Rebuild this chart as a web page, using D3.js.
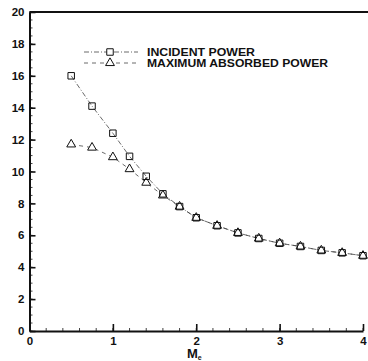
<!DOCTYPE html>
<html>
<head>
<meta charset="utf-8">
<script src="https://cdn.jsdelivr.net/npm/d3@7/dist/d3.min.js"></script>
<style>
  html, body { margin: 0; padding: 0; background: #fff; }
  svg { display: block; }
  text { font-family: "Liberation Sans", Arial, sans-serif; font-weight: bold; fill: #111; }
</style>
</head>
<body>
<svg id="chart" width="368" height="361"></svg>
<script>
// Mach number samples
const machNumbers = [0.5, 0.75, 1.0, 1.2, 1.4, 1.6, 1.8, 2.0, 2.25, 2.5, 2.75, 3.0, 3.25, 3.5, 3.75, 4.0];
// Incident power (square markers)
const incidentPower = [16.0, 14.1, 12.4, 10.95, 9.7, 8.6, 7.8, 7.1, 6.6, 6.15, 5.8, 5.5, 5.3, 5.05, 4.9, 4.72];
// Maximum absorbed power (triangle markers)
const absorbedPower = [11.7, 11.5, 10.9, 10.15, 9.3, 8.5, 7.8, 7.1, 6.6, 6.15, 5.8, 5.5, 5.3, 5.05, 4.9, 4.72];

const xTicks = [0, 1, 2, 3, 4];
const yTicks = [0, 2, 4, 6, 8, 10, 12, 14, 16, 18, 20];
const seriesLabels = ["INCIDENT POWER", "MAXIMUM ABSORBED POWER"];

const svg = d3.select("#chart");
const x = d3.scaleLinear().domain([0, 4]).range([29.5, 363]);
const y = d3.scaleLinear().domain([0, 20]).range([331, 12]);

const ink = "#111";

// minor ticks
const g = svg.append("g");
g.selectAll(".xminor").data(d3.range(0, 4.001, 0.2)).join("line")
  .attr("x1", d => x(d)).attr("x2", d => x(d))
  .attr("y1", y(0)).attr("y2", y(0) - 3)
  .attr("stroke", ink).attr("stroke-width", 0.8);
g.selectAll(".yminor").data(d3.range(0, 20.001, 0.5)).join("line")
  .attr("x1", x(0)).attr("x2", x(0) + 3)
  .attr("y1", d => y(d)).attr("y2", d => y(d))
  .attr("stroke", ink).attr("stroke-width", 0.8);

// axes
const xAxis = d3.axisBottom(x).tickValues(xTicks).tickFormat(d3.format("d"))
  .tickSizeInner(-7).tickSizeOuter(0).tickPadding(4);
const yAxis = d3.axisLeft(y).tickValues(yTicks).tickFormat(d3.format("d"))
  .tickSizeInner(-6).tickSizeOuter(0).tickPadding(5);

const gx = svg.append("g").attr("transform", `translate(0,${y(0)})`).call(xAxis);
const gy = svg.append("g").attr("transform", `translate(${x(0)},0)`).call(yAxis);
[gx, gy].forEach(a => {
  a.select(".domain").attr("stroke", ink).attr("stroke-width", 2);
  a.selectAll(".tick line").attr("stroke", ink).attr("stroke-width", 1.6);
  a.selectAll(".tick text").attr("font-size", 11.5).attr("font-weight", "bold")
    .attr("font-family", "'Liberation Sans', Arial, sans-serif").attr("fill", ink);
});
gx.selectAll(".tick text").attr("dy", "0.85em");

// top frame line
svg.append("line")
  .attr("x1", x(0)).attr("x2", 368)
  .attr("y1", y(20)).attr("y2", y(20))
  .attr("stroke", ink).attr("stroke-width", 2);

// axis title M with subscript e
const title = svg.append("text").attr("x", x(2) - 2).attr("y", 358)
  .attr("font-size", 13).attr("text-anchor", "middle");
title.append("tspan").text("M");
title.append("tspan").attr("font-size", 7).attr("dy", 2).text("e");

// series
const incident = machNumbers.map((m, i) => [m, incidentPower[i]]);
const absorbed = machNumbers.map((m, i) => [m, absorbedPower[i]]);
const line = d3.line().x(d => x(d[0])).y(d => y(d[1]));

svg.append("path").datum(incident).attr("d", line)
  .attr("fill", "none").attr("stroke", "#444").attr("stroke-width", 0.8)
  .attr("stroke-dasharray", "5,2,1,2");
svg.append("path").datum(absorbed).attr("d", line)
  .attr("fill", "none").attr("stroke", "#444").attr("stroke-width", 0.8)
  .attr("stroke-dasharray", "4,4");

const sq = d3.symbol().type(d3.symbolSquare).size(42);
const tri = d3.symbol().type(d3.symbolTriangle).size(34);

svg.selectAll(".tri").data(absorbed).join("path")
  .attr("transform", d => `translate(${x(d[0])},${y(d[1])})`)
  .attr("d", tri).attr("fill", "#fff").attr("stroke", ink).attr("stroke-width", 1);
svg.selectAll(".sq").data(incident).join("path")
  .attr("transform", d => `translate(${x(d[0])},${y(d[1])})`)
  .attr("d", sq).attr("fill", "none").attr("stroke", ink).attr("stroke-width", 1);

// legend
const legend = svg.append("g");
const rows = [
  { yy: 52, dash: "5,2,1,2", sym: sq, label: seriesLabels[0], width: 108 },
  { yy: 63, dash: "4,4", sym: tri, label: seriesLabels[1], width: 181 }
];
rows.forEach(r => {
  legend.append("line").attr("x1", 84).attr("x2", 138)
    .attr("y1", r.yy).attr("y2", r.yy)
    .attr("stroke", "#444").attr("stroke-width", 0.8).attr("stroke-dasharray", r.dash);
  legend.append("path").attr("transform", `translate(110,${r.yy})`)
    .attr("d", r.sym).attr("fill", "#fff").attr("stroke", ink).attr("stroke-width", 1);
  legend.append("text").attr("x", 147).attr("y", r.yy + 3.5)
    .attr("font-size", 10).attr("textLength", r.width).attr("lengthAdjust", "spacingAndGlyphs")
    .text(r.label);
});
</script>
</body>
</html>
